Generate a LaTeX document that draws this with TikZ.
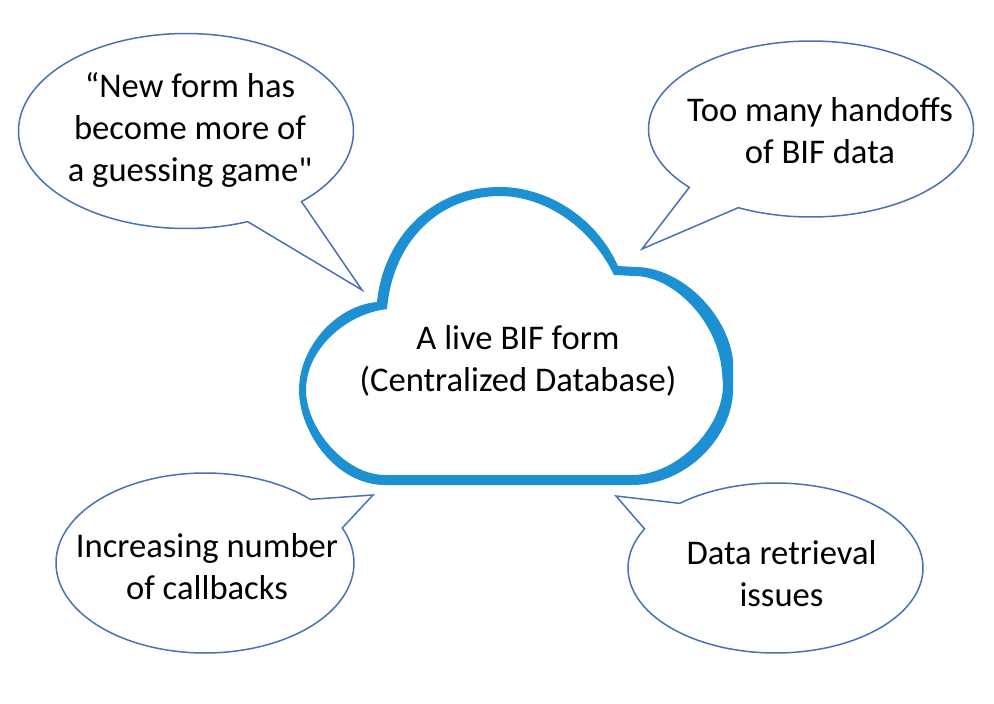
\documentclass[tikz,border=0pt]{standalone}
\usepackage{fontspec}
\newfontfamily\labelfont{Carlito}
\definecolor{bubbleline}{HTML}{4A70B5}
\definecolor{cloudblue}{HTML}{1C90D2}
\tikzset{
  bubble/.style={draw=bubbleline,line width=1.5pt,line join=miter,fill=white},
  cloudshape/.style={fill=cloudblue,even odd rule},
  label/.style={align=center,anchor=base,text=black,inner sep=0pt,font=\labelfont\fontsize{34.6}{41.7}\selectfont}
}
\newcommand{\speechbubble}[8]{%
  \draw[bubble] (#7,#8) -- plot[domain=#5:#6,samples=160,smooth] ({#1+#3*cos(\x)},{#2+#4*sin(\x)}) -- cycle;}
\begin{document}
\begin{tikzpicture}[x=1pt,y=-1pt]
\useasboundingbox (0,0) rectangle (994,704);
\fill[white] (0,0) rectangle (994,704);
% cloud
\path[cloudshape]
  (377,302) .. controls (383,240) and (430,187) .. (500,187)
  .. controls (545,187) and (595,215) .. (618,266)
  -- (635,267) .. controls (680,267) and (727,312) .. (733,360)
  -- (733,390) .. controls (733,435) and (688,485) .. (632,485)
  -- (385,485) .. controls (336,485) and (299,432) .. (299,390)
  .. controls (299,348) and (335,306) .. (377,302) -- cycle
  (387,309) .. controls (393,240) and (440,196) .. (500,196)
  .. controls (540,196) and (588,222) .. (614,275)
  -- (635,276) .. controls (672,276) and (718,320) .. (722,372)
  -- (723,385) .. controls (723,427) and (678,475) .. (632,475)
  -- (385,475) .. controls (345,475) and (306,428) .. (306,390)
  .. controls (306,350) and (345,314) .. (387,309) -- cycle;
% callouts
\speechbubble{186}{131}{167.5}{97.5}{46.4}{-291.6}{362}{290}
\speechbubble{811}{129}{162.5}{88}{-243.4}{-581.5}{642}{249}
\speechbubble{205}{563}{149}{90}{-45}{-382.9}{373}{495}
\speechbubble{775.5}{568}{147.5}{85}{-152.6}{-490.5}{616}{496}
% texts
\node[label] (cloudtext) at (518,391) {A live BIF form\\(Centralized Database)};
\node[label] (guess) at (190,181) {“New form has\\become more of\\a guessing game"};
\node[label] (handoffs) at (820,163) {Too many handoffs\\of BIF data};
\node[label] (callbacks) at (207,599) {Increasing number\\of callbacks};
\node[label] (retrieval) at (781.5,606) {Data retrieval\\issues};
\end{tikzpicture}
\end{document}
